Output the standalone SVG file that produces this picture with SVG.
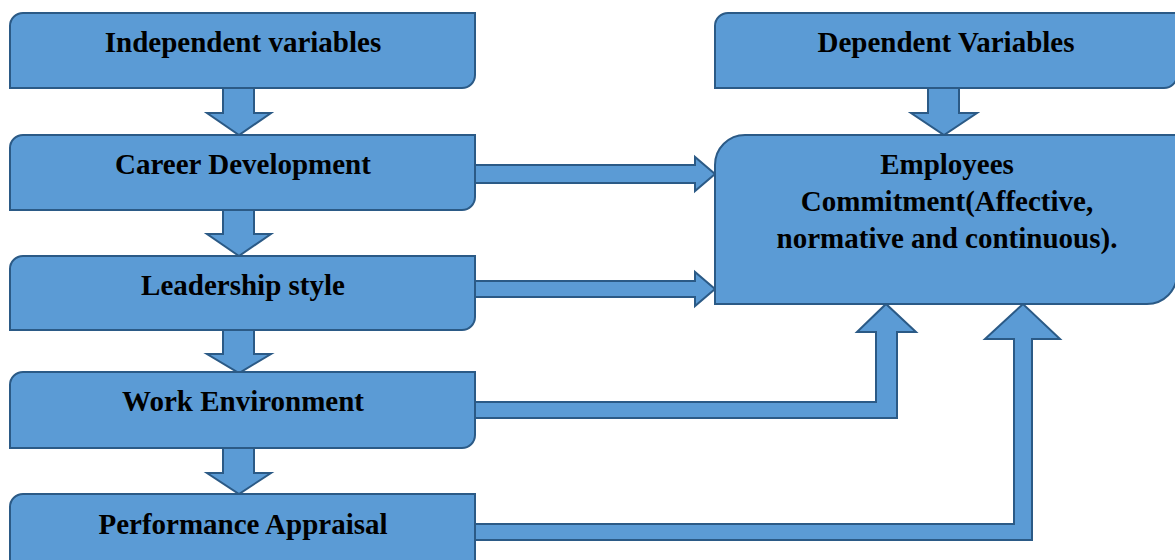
<svg xmlns="http://www.w3.org/2000/svg" width="1175" height="560" viewBox="0 0 1175 560">
<style>
.box{fill:#5B9BD5;stroke:#2B5A86;stroke-width:2}
.arr{fill:#5B9BD5;stroke:#2B5A86;stroke-width:2;stroke-linejoin:miter}
.t{font-family:"Liberation Serif","Times New Roman",serif;font-weight:bold;font-size:29px;fill:#000;text-anchor:middle}
</style>
<rect width="1175" height="560" fill="#fff"/>
<g id="connectors">
<path class="arr" d="M223,88 H254 V113 H271 L239,135 L207,113 H223 Z"/>
<path class="arr" d="M223,210 H254 V234 H271 L239,256 L207,234 H223 Z"/>
<path class="arr" d="M223,330 H254 V354 H271 L239,373 L207,354 H223 Z"/>
<path class="arr" d="M223,448 H254 V473 H271 L239,494 L207,473 H223 Z"/>
<path class="arr" d="M928,88 H959 V113 H977 L944,135 L911,113 H928 Z"/>
<path class="arr" d="M475,165 H695 V157 L715,174 L695,191 V183 H475 Z"/>
<path class="arr" d="M475,281 H695 V272 L715,289 L695,306 V297 H475 Z"/>
<path class="arr" d="M475,402 H876 V332 H857 L886,304 L916,332 H897 V418 H475 Z"/>
<path class="arr" d="M475,524 H1014 V339 H985 L1023,304 L1060,339 H1032 V540 H475 Z"/>
</g>
<g id="n-independent">
<path class="box" d="M23,13 H475 V75 A13,13 0 0 1 462,88 H10 V26 A13,13 0 0 1 23,13 Z"/>
<text class="t" x="243" y="52">Independent variables</text>
</g>
<g id="n-career">
<path class="box" d="M23,135 H475 V197 A13,13 0 0 1 462,210 H10 V148 A13,13 0 0 1 23,135 Z"/>
<text class="t" x="243" y="174">Career Development</text>
</g>
<g id="n-leadership">
<path class="box" d="M23,256 H475 V317 A13,13 0 0 1 462,330 H10 V269 A13,13 0 0 1 23,256 Z"/>
<text class="t" x="243" y="295">Leadership style</text>
</g>
<g id="n-work">
<path class="box" d="M23,372 H475 V435 A13,13 0 0 1 462,448 H10 V385 A13,13 0 0 1 23,372 Z"/>
<text class="t" x="243" y="411">Work Environment</text>
</g>
<g id="n-performance">
<path class="box" d="M23,494 H475 V562 A13,13 0 0 1 462,575 H10 V507 A13,13 0 0 1 23,494 Z"/>
<text class="t" x="243" y="534">Performance Appraisal</text>
</g>
<g id="n-dependent">
<path class="box" d="M728,13 H1177 V75 A13,13 0 0 1 1164,88 H715 V26 A13,13 0 0 1 728,13 Z"/>
<text class="t" x="946" y="52">Dependent Variables</text>
</g>
<g id="n-employees">
<path class="box" d="M745,135 H1177 V274 A30,30 0 0 1 1147,304 H715 V165 A30,30 0 0 1 745,135 Z"/>
<text class="t" x="947" y="174">Employees</text>
<text class="t" x="947" y="211">Commitment(Affective,</text>
<text class="t" x="947" y="248">normative and continuous).</text>
</g>
</svg>
